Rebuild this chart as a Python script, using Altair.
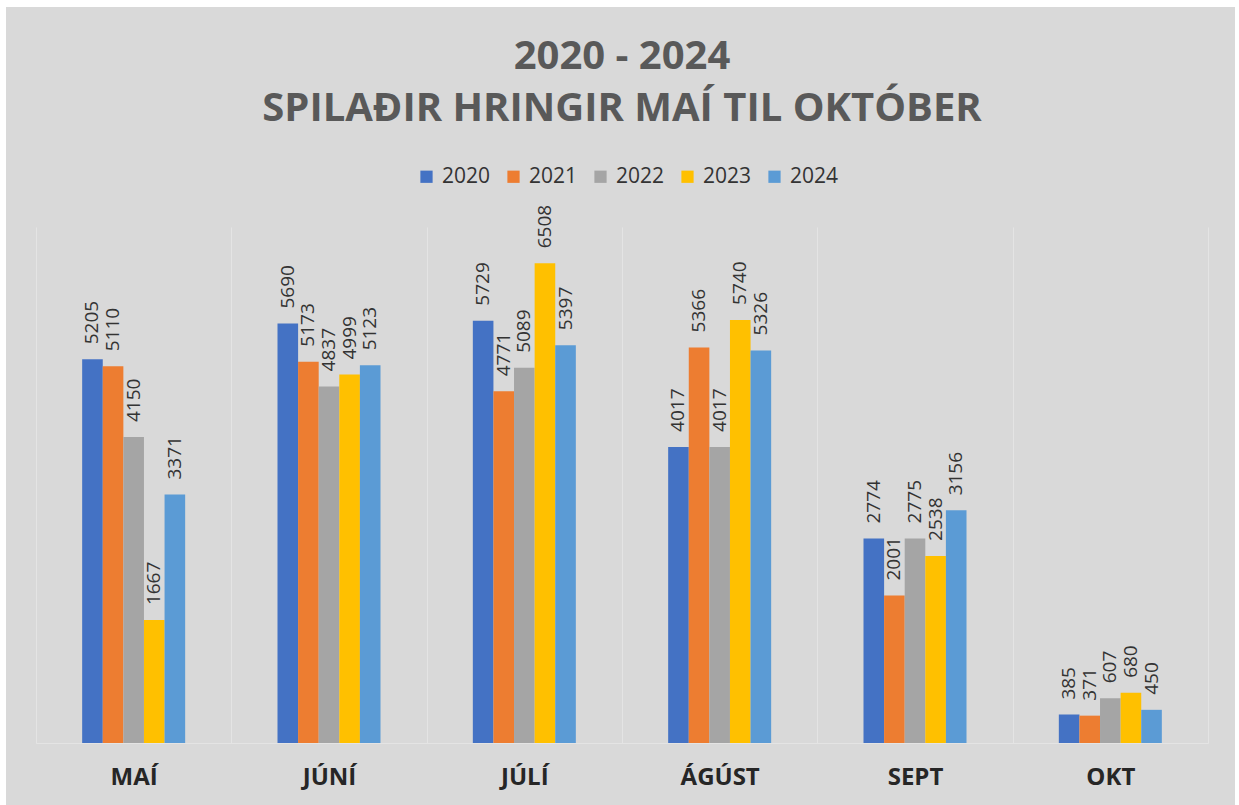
import altair as alt
import pandas as pd

months = ["MAÍ", "JÚNÍ", "JÚLÍ", "ÁGÚST", "SEPT", "OKT"]
years = ["2020", "2021", "2022", "2023", "2024"]
values_2020 = [5205, 5690, 5729, 4017, 2774, 385]
values_2021 = [5110, 5173, 4771, 5366, 2001, 371]
values_2022 = [4150, 4837, 5089, 4017, 2775, 607]
values_2023 = [1667, 4999, 6508, 5740, 2538, 680]
values_2024 = [3371, 5123, 5397, 5326, 3156, 450]
colors = ["#4472C4", "#ED7D31", "#A5A5A5", "#FFC000", "#5B9BD5"]
title_lines = ["2020 - 2024", "SPILAÐIR HRINGIR MAÍ TIL OKTÓBER"]

rows = []
for yr, vals in zip(years, [values_2020, values_2021, values_2022, values_2023, values_2024]):
    for m, v in zip(months, vals):
        rows.append({"month": m, "year": yr, "value": v})
df = pd.DataFrame(rows)

W, H = 1172, 516
PAD = {"left": 36, "top": 227, "right": 31, "bottom": 62}
band = W / len(months)
group = 103

x = alt.X(
    "month:N", sort=months,
    scale=alt.Scale(paddingInner=0, paddingOuter=0),
    axis=alt.Axis(
        title=None, labelAngle=0, ticks=False, grid=True, gridColor="#e4e4e4",
        gridWidth=1, tickBand="extent", domainColor="#e4e4e4", domainWidth=1,
        labelFont="Open Sans", labelFontWeight="bold", labelFontSize=24,
        labelColor="#262626", labelPadding=22, zindex=1,
    ),
)
xo = alt.XOffset(
    "year:N", sort=years,
    scale=alt.Scale(paddingInner=0, paddingOuter=0,
                    range=[(band - group) / 2, (band + group) / 2]),
)
y = alt.Y("value:Q", scale=alt.Scale(domain=[0, 7000], nice=False), axis=None)
color = alt.Color(
    "year:N", sort=years,
    scale=alt.Scale(domain=years, range=colors),
    legend=alt.Legend(
        title=None, orient="none", direction="horizontal",
        legendX=380, legendY=-61, symbolType="square", symbolSize=150,
        symbolStrokeWidth=0, labelFont="Open Sans", labelFontSize=21,
        labelColor="#333333", columnPadding=12, labelOffset=5,
    ),
)

bg = alt.Chart(alt.Data(values=[{}])).mark_rect(color="#d9d9d9").encode(
    x=alt.value(6 - PAD["left"]), x2=alt.value(1235 - PAD["left"]),
    y=alt.value(7 - PAD["top"]), y2=alt.value(805 - PAD["top"]),
)

bars = alt.Chart(df).mark_bar().encode(x=x, xOffset=xo, y=y, color=color)
labels = alt.Chart(df).mark_text(
    angle=270, align="left", baseline="middle", dx=15,
    font="Open Sans", fontSize=19, color="#333333",
).encode(x=x, xOffset=xo, y=y, text=alt.Text("value:Q", format="d"))

chart = alt.layer(bg, bars, labels).properties(
    width=W, height=H,
    padding=PAD,
    autosize=alt.AutoSizeParams(type="none"),
    background="white",
    title=alt.TitleParams(
        text=title_lines, font="Open Sans", fontSize=40, fontWeight="bold",
        color="#595959", anchor="middle", lineHeight=52, offset=0, dy=122,
    ),
).configure_view(stroke=None)

chart.save("out.html", embed_options={"renderer": "svg", "actions": False})
